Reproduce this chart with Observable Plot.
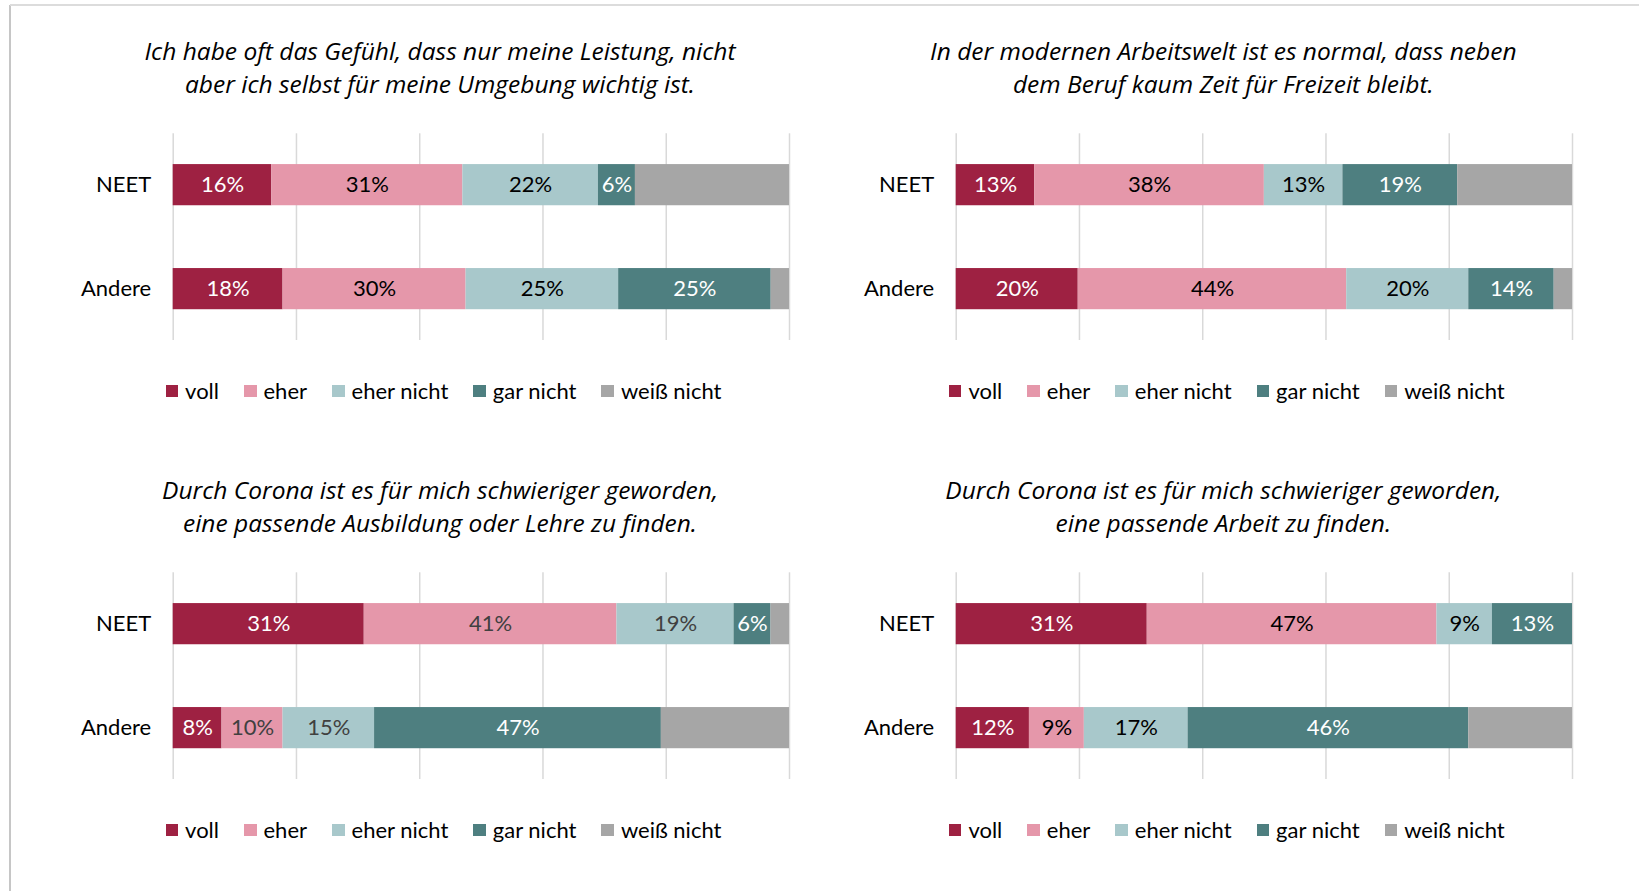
<!DOCTYPE html>
<html>
<head>
<meta charset="utf-8">
<script src="https://cdn.jsdelivr.net/npm/d3@7"></script>
<script src="https://cdn.jsdelivr.net/npm/@observablehq/plot@0.6"></script>
<style>
html, body { margin: 0; padding: 0; background: #fff; width: 1639px; height: 891px; overflow: hidden; font-family: Lato, "Open Sans", sans-serif; }
#frameL { position: absolute; left: 9px; top: 5px; width: 2px; height: 886px; background: #c6c6c6; }
#frameT { position: absolute; left: 10px; top: 4px; right: 0; height: 2px; background: #dcdcdc; }
.panel { position: absolute; width: 800px; height: 439px; }
.title { position: absolute; left: 0; width: 880px; top: 34.4px; text-align: center; font-family: "Open Sans", Lato, sans-serif; font-style: italic; font-size: 24.5px; line-height: 33px; color: #000; white-space: nowrap; }
.plot { position: absolute; left: 0; top: 120px; }
.legend { position: absolute; left: 0; width: 887px; top: 376px; height: 30px; display: flex; justify-content: center; align-items: center; font-size: 22px; line-height: 30px; color: #000; white-space: nowrap; }
.item { display: flex; align-items: center; margin-right: 25px; }
.item:last-child { margin-right: 0; }
.sw { width: 12.5px; height: 12.5px; margin-right: 7px; display: inline-block; }
</style>
</head>
<body>
<div id="frameL"></div>
<div id="frameT"></div>
<div id="root"></div>
<script>
// ---- data ----
const groups = ["NEET", "Andere"];
const answers = ["voll", "eher", "eher nicht", "gar nicht", "weiß nicht"];
const titles = [
  ["Ich habe oft das Gefühl, dass nur meine Leistung, nicht", "aber ich selbst für meine Umgebung wichtig ist."],
  ["In der modernen Arbeitswelt ist es normal, dass neben", "dem Beruf kaum Zeit für Freizeit bleibt."],
  ["Durch Corona ist es für mich schwieriger geworden,", "eine passende Ausbildung oder Lehre zu finden."],
  ["Durch Corona ist es für mich schwieriger geworden,", "eine passende Arbeit zu finden."]
];
const q1_neet   = [16, 31, 22, 6, 25];
const q1_andere = [18, 30, 25, 25, 3];
const q2_neet   = [13, 38, 13, 19, 19];
const q2_andere = [20, 44, 20, 14, 3];
const q3_neet   = [31, 41, 19, 6, 3];
const q3_andere = [8, 10, 15, 47, 21];
const q4_neet   = [31, 47, 9, 13, 0];
const q4_andere = [12, 9, 17, 46, 17];
const gridTicks = [0, 0.2, 0.4, 0.6, 0.8, 1];
const labelWhite = ["voll", "gar nicht"];
const labelDark = ["eher", "eher nicht"];

// ---- styles ----
const colors = ["#9e2142", "#e597aa", "#a8c8cb", "#4e7f80", "#a6a6a6"];
const panels = [
  {vals: [q1_neet, q1_andere], left: 0, top: 0, dark: "#000"},
  {vals: [q2_neet, q2_andere], left: 783.3, top: 0, dark: "#000"},
  {vals: [q3_neet, q3_andere], left: 0, top: 439, dark: "#404040"},
  {vals: [q4_neet, q4_andere], left: 783.3, top: 439, dark: "#000"}
];

function drawPlot(vals, dark) {
  const data = [];
  groups.forEach((g, gi) => answers.forEach((a, ai) => data.push({group: g, answer: a, value: vals[gi][ai]})));
  const stack = (o) => Plot.stackX({x: "value", y: "group", z: "answer", order: answers, offset: "normalize", ...o});
  return Plot.plot({
    width: 800, height: 240,
    marginTop: 13.3, marginBottom: 20, marginLeft: 172.7, marginRight: 11,
    x: {domain: [0, 1], axis: null},
    y: {domain: groups, paddingInner: 0.604, paddingOuter: 0.296, round: false, axis: null},
    color: {domain: answers, range: colors},
    style: {fontFamily: "Lato, 'Open Sans', sans-serif", background: "transparent", overflow: "visible"},
    marks: [
      Plot.ruleX(gridTicks, {stroke: "#d9d9d9", strokeWidth: 1.5}),
      Plot.barX(data, stack({fill: "answer"})),
      Plot.text(data, stack({text: d => labelWhite.includes(d.answer) ? d.value + "%" : "", fill: "white", fontSize: 22})),
      Plot.text(data, stack({text: d => labelDark.includes(d.answer) ? d.value + "%" : "", fill: dark, fontSize: 22})),
      Plot.axisY({tickSize: 0, tickPadding: 22, fontSize: 22, fill: "#000", label: null})
    ]
  });
}

const root = document.getElementById("root");
panels.forEach((p, i) => {
  const div = document.createElement("div");
  div.className = "panel";
  div.style.left = p.left + "px";
  div.style.top = p.top + "px";
  const t = document.createElement("div");
  t.className = "title";
  t.innerHTML = titles[i][0] + "<br>" + titles[i][1];
  div.appendChild(t);
  const pw = document.createElement("div");
  pw.className = "plot";
  pw.appendChild(drawPlot(p.vals, p.dark));
  div.appendChild(pw);
  const lg = document.createElement("div");
  lg.className = "legend";
  answers.forEach((a, ai) => {
    const it = document.createElement("span");
    it.className = "item";
    const sw = document.createElement("span");
    sw.className = "sw";
    sw.style.background = colors[ai];
    it.appendChild(sw);
    it.appendChild(document.createTextNode(a));
    lg.appendChild(it);
  });
  div.appendChild(lg);
  root.appendChild(div);
});
</script>
</body>
</html>
